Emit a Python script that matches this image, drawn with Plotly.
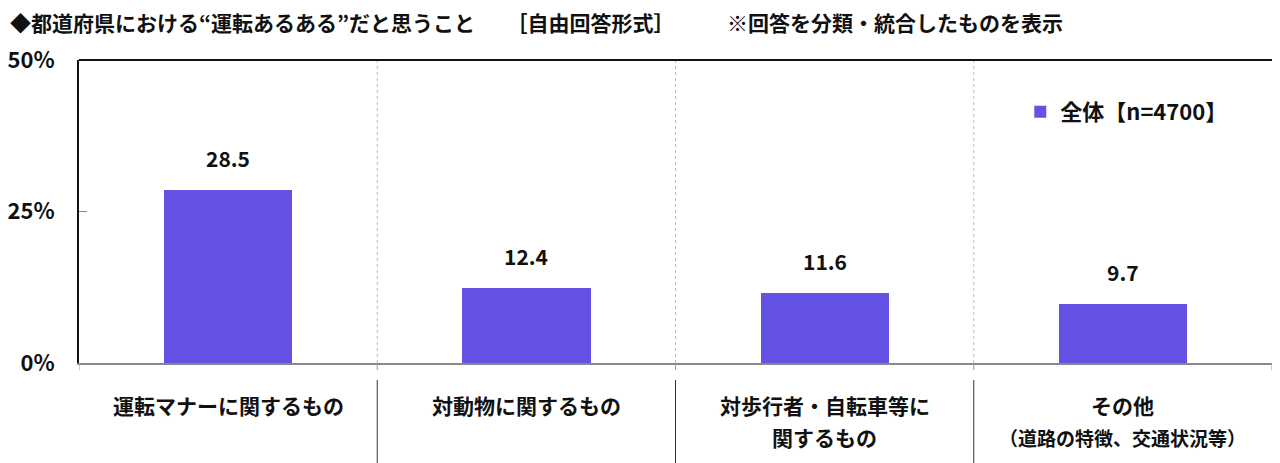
import plotly.graph_objects as go

cat_line1 = ["運転マナーに関するもの", "対動物に関するもの", "対歩行者・自転車等に", "その他"]
cat_line2 = ["", "", "関するもの", "（道路の特徴、交通状況等）"]
cat_line2_small = [False, False, False, True]
values = [28.5, 12.4, 11.6, 9.7]
series_name = "全体【n=4700】"
y_ticks = [0, 25, 50]
title_text = "◆都道府県における“運転あるある”だと思うこと　　［自由回答形式］　　　※回答を分類・統合したものを表示"

FONT = "Noto Sans CJK JP"
BAR = "#6452E5"
x_idx = list(range(len(values)))
PLOT_H = 303
PLOT_W = 1193

fig = go.Figure()
fig.add_trace(go.Bar(x=x_idx, y=values, name=series_name, marker=dict(color=BAR, line=dict(width=0)),
                     width=0.43, showlegend=True))

for i, v in zip(x_idx, values):
    fig.add_annotation(x=i, y=v, text=f"{v:.1f}", showarrow=False, yanchor="bottom", yshift=15,
                       font=dict(family=FONT, size=21, color="#111", weight="bold"))

# category labels
for i, l1, l2, sm in zip(x_idx, cat_line1, cat_line2, cat_line2_small):
    fig.add_annotation(x=i, xref="x", yref="paper", y=-(405 - 363) / PLOT_H, yanchor="middle",
                       text=l1, showarrow=False,
                       font=dict(family=FONT, size=21, color="#111", weight="bold"))
    if l2:
        fig.add_annotation(x=i, xref="x", yref="paper", y=-(437 - 363) / PLOT_H, yanchor="middle",
                           text=l2, showarrow=False,
                           font=dict(family=FONT, size=19 if sm else 21, color="#111", weight="bold"))

# separators below axis
for b in [i + 0.5 for i in x_idx[:-1]]:
    fig.add_shape(type="line", xref="x", yref="paper", x0=b, x1=b, y0=-(380 - 363) / PLOT_H, y1=-0.36,
                  line=dict(color="#333", width=1))
# top border
fig.add_shape(type="line", xref="paper", yref="paper", x0=0, x1=1, y0=1, y1=1,
              line=dict(color="#111", width=2))
# dotted boundaries inside plot
for b in [i + 0.5 for i in x_idx[:-1]]:
    fig.add_shape(type="line", xref="x", yref="paper", x0=b, x1=b, y0=0, y1=1,
                  line=dict(color="#bbb", width=1, dash="dot"), layer="below")
# boundary ticks below axis
for b in [i - 0.5 for i in x_idx] + [len(values) - 0.5]:
    fig.add_shape(type="line", xref="x", yref="paper", x0=b, x1=b, y0=0, y1=-7 / PLOT_H,
                  line=dict(color="#999", width=1))

fig.add_annotation(xref="paper", yref="paper", x=-71 / PLOT_W, y=1 + 38 / PLOT_H, xanchor="left", yanchor="middle",
                   text=title_text, showarrow=False,
                   font=dict(family=FONT, size=21, color="#111", weight="bold"))

# page has an 8px body margin, so offset margins by -8
fig.update_layout(
    width=1280, height=463,
    margin=dict(l=71, r=16, t=52, b=108, pad=0),
    plot_bgcolor="white", paper_bgcolor="white",
    font=dict(family=FONT, color="#111"),
    bargap=0,
    legend=dict(x=0.789, y=(363 - 112) / PLOT_H, xanchor="left", yanchor="middle", bgcolor="rgba(0,0,0,0)",
                font=dict(family=FONT, size=22, color="#111", weight="bold"), itemsizing="constant"),
    xaxis=dict(
        tickmode="array", tickvals=x_idx, ticktext=[""] * len(x_idx),
        range=[-0.5, len(values) - 0.5], automargin=False,
        showline=True, linecolor="#888", linewidth=2,
        ticks="", showgrid=False, zeroline=False,
    ),
    yaxis=dict(
        range=[0, 50], tickmode="array", tickvals=y_ticks, ticktext=[f"{t}%" for t in y_ticks],
        automargin=False,
        showline=True, linecolor="#111", linewidth=2, mirror=True,
        ticks="inside", ticklen=8, tickcolor="#888",
        showgrid=False, zeroline=False,
        tickfont=dict(family=FONT, size=22, color="#111", weight="bold"),
        ticklabelstandoff=18,
    ),
)

fig.write_html("out.html")
